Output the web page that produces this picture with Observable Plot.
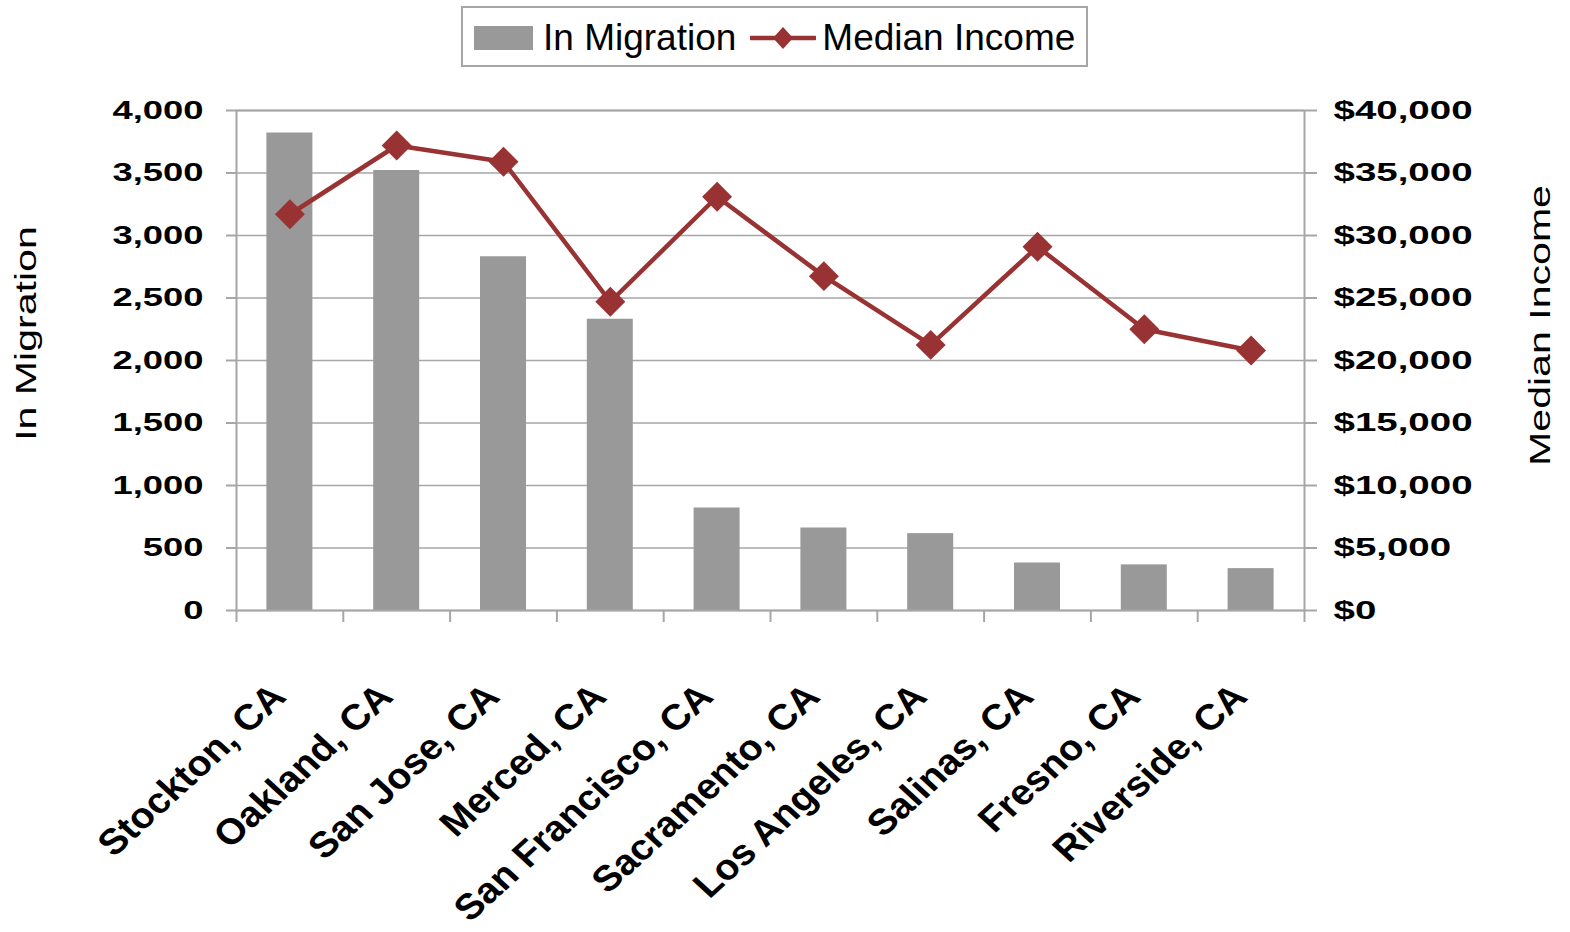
<!DOCTYPE html>
<html>
<head>
<meta charset="utf-8">
<script src="https://cdn.jsdelivr.net/npm/d3@7"></script>
<script src="https://cdn.jsdelivr.net/npm/@observablehq/plot@0.6"></script>
<style>
  body { margin: 0; background: #fff; font-family: "Liberation Sans", Arial, sans-serif; }
  #wrap { width: 1570px; }
  #legendRow { position: relative; height: 72px; }
  #legend {
    position: absolute; left: 461px; top: 6px;
    width: 623px; height: 55px; padding-top: 2px;
    border: 2px solid #a6a6a6;
    display: flex; align-items: center;
    font-size: 37px; color: #000; white-space: nowrap;
  }
  #legend .bar { width: 59px; height: 24px; background: #999999; margin-left: 11px; }
  #legend .lab1 { margin-left: 10px; }
  #legend svg { margin-left: 14px; }
  #legend .lab2 { margin-left: 6px; }
</style>
</head>
<body>
<div id="wrap">
  <div id="legendRow">
    <div id="legend">
      <span class="bar"></span><span class="lab1">In Migration</span>
      <svg width="66" height="26" viewBox="0 0 66 26">
        <line x1="1" y1="13" x2="65" y2="13" stroke="#993333" stroke-width="4.5" stroke-linecap="round"></line>
        <path d="M33 2 L43 13 L33 24 L23 13 Z" fill="#993333"></path>
      </svg><span class="lab2">Median Income</span>
    </div>
  </div>
  <div id="chart"></div>
</div>
<script>
// ---- data ----
const cities = ["Stockton, CA", "Oakland, CA", "San Jose, CA", "Merced, CA", "San Francisco, CA",
                "Sacramento, CA", "Los Angeles, CA", "Salinas, CA", "Fresno, CA", "Riverside, CA"];
const inMigration = [3820, 3520, 2830, 2330, 820, 660, 615, 380, 365, 335];
const medianIncome = [31700, 37200, 35900, 24700, 33100, 26750, 21250, 29100, 22500, 20800];
const leftTicks = [0, 500, 1000, 1500, 2000, 2500, 3000, 3500, 4000];
const rightTickLabels = ["$0", "$5,000", "$10,000", "$15,000", "$20,000", "$25,000", "$30,000", "$35,000", "$40,000"];
const titleLeft = "In Migration";
const titleRight = "Median Income";
const INCOME_PER_UNIT = 10; // right axis ($) = left axis units x 10

const data = cities.map((city, i) => ({city, migration: inMigration[i], income: medianIncome[i]}));

const W = 1570, H = 860, mL = 236, mR = 266, mT = 38, mB = 322;
const bw = (W - mL - mR) / cities.length;
const GRID = "#a6a6a6", RED = "#993333", BAR = "#999999";
const FONT = '"Liberation Sans", Arial, sans-serif';

const chart = Plot.plot({
  width: W, height: H,
  marginLeft: mL, marginRight: mR, marginTop: mT, marginBottom: mB,
  style: {fontFamily: FONT, background: "white", overflow: "visible"},
  x: {type: "band", domain: cities, padding: 0, round: false, axis: null},
  y: {domain: [0, 4000], axis: null},
  marks: [
    Plot.gridY(leftTicks, {stroke: GRID, strokeOpacity: 1, strokeWidth: 1.5}),
    Plot.barY(data, {x: "city", y: "migration", fill: BAR, insetLeft: 30.4, insetRight: 30.4}),
    Plot.frame({stroke: GRID, strokeWidth: 2}),
    Plot.ruleX(cities, {x: d => d, y1: 0, y2: -96, dx: -bw / 2, stroke: GRID, strokeWidth: 2}),
    Plot.ruleX(cities.slice(-1), {x: d => d, y1: 0, y2: -96, dx: bw / 2, stroke: GRID, strokeWidth: 2}),
    Plot.axisY(leftTicks, {anchor: "left", tickSize: 10, tickPadding: 23, tickFormat: d3.format(","),
      fontSize: 26, fontWeight: "bold", stroke: GRID, strokeWidth: 2, fill: "black", label: null}),
    Plot.axisY(leftTicks, {anchor: "right", tickSize: 12, tickPadding: 17,
      tickFormat: d => rightTickLabels[leftTicks.indexOf(d)],
      fontSize: 26, fontWeight: "bold", stroke: GRID, strokeWidth: 2, fill: "black", label: null}),
    Plot.line(data, {x: "city", y: d => d.income / INCOME_PER_UNIT, stroke: RED, strokeWidth: 4.5}),
    Plot.dot(data, {x: "city", y: d => d.income / INCOME_PER_UNIT, symbol: "diamond2", r: 13.5, fill: RED, stroke: "none"}),
    Plot.text(data, {x: "city", y: 0, text: "city", dx: -2, dy: 88, textAnchor: "end", lineAnchor: "bottom",
      fontSize: 36, fontWeight: "bold", fill: "black"}),
    Plot.text([titleLeft], {frameAnchor: "left", text: d => d, rotate: -90, dx: -201, dy: -27,
      textAnchor: "middle", lineAnchor: "bottom", fontSize: 30, fill: "black"}),
    Plot.text([titleRight], {frameAnchor: "right", text: d => d, rotate: -90, dx: 245.5, dy: -35,
      textAnchor: "middle", lineAnchor: "bottom", fontSize: 30, fill: "black"})
  ]
});

// Excel renders these labels wider along their reading direction; reproduce that.
function stretch(t, s, extra = "") {
  const x = t.getAttribute("x");
  let tr = t.getAttribute("transform") || "";
  if (x !== null && !isNaN(+x)) {
    tr += ` translate(${+x},0)`;
    t.removeAttribute("x");
  }
  t.setAttribute("transform", `${tr} scale(${s},1)${extra}`);
}
chart.querySelectorAll("text").forEach(t => {
  const s = t.textContent;
  if (cities.includes(s)) stretch(t, 1.09, " rotate(-45)");
  else if (s === titleLeft || s === titleRight) stretch(t, 1.37);
  else if (rightTickLabels.includes(s)) stretch(t, 1.48);
  else if (/^[\d,]+$/.test(s)) stretch(t, 1.4);
});

document.getElementById("chart").appendChild(chart);
</script>
</body>
</html>
